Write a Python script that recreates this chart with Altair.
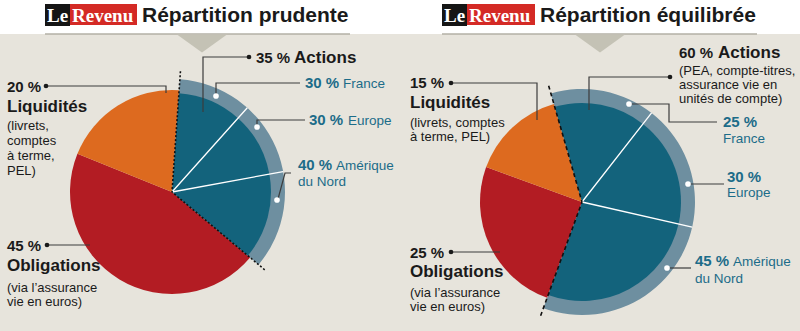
import math
import altair as alt
import pandas as pd

# ---------------- data ----------------
ASSET_CLASSES = ["Actions", "Obligations", "Liquidités"]
PRUDENTE = [35, 45, 20]
EQUILIBREE = [60, 25, 15]
REGIONS = ["France", "Europe", "Amérique du Nord"]
ACTIONS_PRUDENTE = [30, 30, 40]
ACTIONS_EQUILIBREE = [25, 30, 45]
TITLES = ["Répartition prudente", "Répartition équilibrée"]
BRAND = ["Le", "Revenu"]
NOTES_LIQ = ["(livrets,\ncomptes\nà terme,\nPEL)", "(livrets, comptes\nà terme, PEL)"]
NOTE_OBL = "(via l’assurance\nvie en euros)"
NOTE_ACT_EQ = "(PEA, compte-titres,\nassurance vie en\nunités de compte)"

# ---------------- styles ----------------
BEIGE = "#e7e4dc"
BLUE = "#13637c"
RING = "#6e8fa0"
ORANGE = "#dd6a1f"
RED = "#b31c23"
TEAL = "#1c6c89"
INK = "#1a1a1a"
LEAD = "#3c3c3c"
TRI = "#c4c2b5"
RULE = "#b3b1a6"
LOGO_RED = "#d42a25"
NARROW = "Liberation Sans, Arial, sans-serif"
SANS = "Liberation Sans, Arial, sans-serif"
SERIF = "Liberation Serif, Times New Roman, serif"
S_PCT, S_HEAD, S_NOTE, S_REG = 15, 17, 13, 13.5

ONE = pd.DataFrame({"a": [0]})


def pct(v):
    return f"{v} %"


def T(text, x, y, size, bold=False, color=INK, font=NARROW, lh=None):
    props = dict(align="left", baseline="alphabetic", fontSize=size,
                 fontWeight="bold" if bold else "normal", color=color, font=font)
    if lh:
        props["lineHeight"] = lh
        props["lineBreak"] = "\n"
    return alt.Chart(ONE).mark_text(**props).encode(
        x=alt.value(x), y=alt.value(y), text=alt.value(text))


def rect(x, x2, y, y2, color):
    return alt.Chart(ONE).mark_rect(color=color).encode(
        x=alt.value(x), x2=alt.value(x2), y=alt.value(y), y2=alt.value(y2))


def pie_tables(alloc, sub):
    rows, cum = [], 0
    for cat, v in zip(ASSET_CLASSES, alloc):
        rows.append(dict(cat=cat, start=cum, end=cum + v))
        cum += v
    main = pd.DataFrame(rows)
    srows, c = [], 0.0
    for reg, v in zip(REGIONS, sub):
        w = alloc[0] * v / 100
        srows.append(dict(region=reg, start=c, end=c + w))
        c += w
    subs = pd.DataFrame(srows)
    seps = pd.DataFrame({"b": list(subs["end"][:-1])})
    edges = pd.DataFrame({"b": [0, alloc[0]]})
    return main, subs, seps, edges


def pie_layers(alloc, sub, start_deg, cx, cy, dash):
    main, subs, seps, edges = pie_tables(alloc, sub)
    s = math.radians(start_deg)
    sc = alt.Scale(domain=[0, 100], range=[s, s + 2 * math.pi])
    pos = dict(x=alt.value(cx), y=alt.value(cy))
    act = main[main["cat"] == "Actions"]
    others = main[main["cat"] != "Actions"]
    ring = alt.Chart(act).mark_arc(radius=113, color=RING).encode(
        theta=alt.Theta("start:Q", scale=sc, stack=False), theta2="end:Q", **pos)
    slices = alt.Chart(others).mark_arc(radius=102).encode(
        theta=alt.Theta("start:Q", scale=sc, stack=False), theta2="end:Q",
        color=alt.Color("cat:N", scale=alt.Scale(domain=ASSET_CLASSES, range=[BLUE, RED, ORANGE]),
                        legend=None), **pos)
    blue = alt.Chart(subs).mark_arc(radius=99, color=BLUE).encode(
        theta=alt.Theta("start:Q", scale=sc, stack=False), theta2="end:Q", **pos)
    white = alt.Chart(seps).mark_arc(radius=113, fill="white", stroke="white", strokeWidth=1.3).encode(
        theta=alt.Theta("b:Q", scale=sc, stack=False), theta2="b:Q", **pos)
    dashed = alt.Chart(edges).mark_arc(radius=121, fillOpacity=0, stroke="#111111",
                                       strokeWidth=1.6, strokeDash=dash).encode(
        theta=alt.Theta("b:Q", scale=sc, stack=False), theta2="b:Q", **pos)
    return [ring, slices, blue, white, dashed]


# ---------------- annotation geometry (pixels) ----------------
LEADERS = {
    "l_liq": [(46, 86), (166, 86), (166, 93)],
    "l_obl": [(47, 245), (90, 245)],
    "l_act": [(249, 57), (203, 57), (203, 112)],
    "l_fr": [(300, 83), (216, 83), (216, 96)],
    "l_eu": [(305, 120), (257, 120), (257, 127)],
    "l_am": [(291, 173), (285, 173), (278, 199)],
    "r_liq": [(451, 83), (537, 83), (537, 120)],
    "r_obl": [(451, 252), (500, 252)],
    "r_act": [(670, 77), (589, 77), (589, 110)],
    "r_fr": [(629, 104), (669, 104), (669, 122), (717, 122)],
    "r_eu": [(688, 184), (724, 184)],
    "r_am": [(667, 268), (691, 268)],
}
BLACK_DOTS = [(46, 86), (47, 245), (249, 57), (451, 83), (451, 252), (670, 77)]
WHITE_DOTS = [(216, 96), (257, 127), (277, 200), (629, 104), (688, 184), (667, 268)]

lead_rows = []
for k, pts in LEADERS.items():
    for i, (x, y) in enumerate(pts):
        lead_rows.append(dict(id=k, o=i, x=x, y=y))
lead_df = pd.DataFrame(lead_rows)
bdots = pd.DataFrame(BLACK_DOTS, columns=["x", "y"])
wdots = pd.DataFrame(WHITE_DOTS, columns=["x", "y"])

px = dict(x=alt.X("x:Q", scale=None, axis=None), y=alt.Y("y:Q", scale=None, axis=None))

layers = []
# background & header
layers.append(rect(0, 800, 34, 331, BEIGE))
layers.append(alt.Chart(ONE).mark_rule(color=RULE, strokeWidth=1.5).encode(
    x=alt.value(45), x2=alt.value(350), y=alt.value(34)))
layers.append(alt.Chart(ONE).mark_rule(color=RULE, strokeWidth=1.5).encode(
    x=alt.value(442), x2=alt.value(757), y=alt.value(34)))
for cx in (202, 600):
    layers.append(alt.Chart(ONE).mark_point(shape="M -1 0 L 1 0 L 0 0.72 Z", size=2500, filled=True,
                                            color=TRI, opacity=1).encode(x=alt.value(cx), y=alt.value(34.5)))
# logos + titles
for (bx0, bx1, rx1, tx), title in zip([(45, 70, 137, 142), (442, 467, 535, 540)], TITLES):
    layers.append(rect(bx0, bx1, 4, 26, "#151515"))
    layers.append(rect(bx1, rx1, 4, 25, LOGO_RED))
    layers.append(T(BRAND[0], bx0 + 2, 22, 19, bold=True, color="white", font=SERIF))
    layers.append(T(BRAND[1], bx1 + 2, 22, 19, bold=True, color="white", font=SERIF))
    layers.append(T(title, tx, 22, 21, bold=True, color=INK, font=SANS))

# pies
layers += pie_layers(PRUDENTE, ACTIONS_PRUDENTE, 4, 172, 192, [2, 2])
layers += pie_layers(EQUILIBREE, ACTIONS_EQUILIBREE, -16, 582, 202, [4, 3])

# leaders and dots
layers.append(alt.Chart(lead_df).mark_line(color=LEAD, strokeWidth=1.2).encode(
    detail="id:N", order="o:Q", **px))
layers.append(alt.Chart(bdots).mark_point(filled=True, color=INK, size=22, opacity=1).encode(**px))
layers.append(alt.Chart(wdots).mark_point(filled=True, color="white", size=32, opacity=1).encode(**px))

# labels - left
layers += [
    T(pct(PRUDENTE[2]), 7, 92, S_PCT, bold=True),
    T(ASSET_CLASSES[2], 7, 112, S_HEAD, bold=True),
    T(NOTES_LIQ[0], 7, 130, S_NOTE, lh=15),
    T(pct(PRUDENTE[1]), 7, 251, S_PCT, bold=True),
    T(ASSET_CLASSES[1], 7, 271, S_HEAD, bold=True),
    T(NOTE_OBL, 7, 292, S_NOTE, lh=14),
    T(pct(PRUDENTE[0]), 256, 63, S_PCT, bold=True),
    T(ASSET_CLASSES[0], 294, 63, S_HEAD, bold=True),
    T(pct(ACTIONS_PRUDENTE[0]), 305, 88, S_PCT, bold=True, color=TEAL),
    T(REGIONS[0], 343, 88, S_REG, color=TEAL),
    T(pct(ACTIONS_PRUDENTE[1]), 309, 125, S_PCT, bold=True, color=TEAL),
    T(REGIONS[1], 348, 125, S_REG, color=TEAL),
    T(pct(ACTIONS_PRUDENTE[2]), 298, 170, S_PCT, bold=True, color=TEAL),
    T(REGIONS[2].split(" ", 1)[0], 336, 170, S_REG, color=TEAL),
    T(REGIONS[2].split(" ", 1)[1], 298, 186, S_REG, color=TEAL),
]
# labels - right
layers += [
    T(pct(EQUILIBREE[2]), 410, 88, S_PCT, bold=True),
    T(ASSET_CLASSES[2], 410, 108, S_HEAD, bold=True),
    T(NOTES_LIQ[1], 410, 127, S_NOTE, lh=14),
    T(pct(EQUILIBREE[1]), 410, 258, S_PCT, bold=True),
    T(ASSET_CLASSES[1], 410, 277, S_HEAD, bold=True),
    T(NOTE_OBL, 410, 297, S_NOTE, lh=14),
    T(pct(EQUILIBREE[0]), 679, 58, S_PCT, bold=True),
    T(ASSET_CLASSES[0], 718, 58, S_HEAD, bold=True),
    T(NOTE_ACT_EQ, 679, 75, S_NOTE, lh=14),
    T(pct(ACTIONS_EQUILIBREE[0]), 723, 127, S_PCT, bold=True, color=TEAL),
    T(REGIONS[0], 723, 143, S_REG, color=TEAL),
    T(pct(ACTIONS_EQUILIBREE[1]), 727, 182, S_PCT, bold=True, color=TEAL),
    T(REGIONS[1], 727, 197, S_REG, color=TEAL),
    T(pct(ACTIONS_EQUILIBREE[2]), 695, 266, S_PCT, bold=True, color=TEAL),
    T(REGIONS[2].split(" ", 1)[0], 733, 266, S_REG, color=TEAL),
    T(REGIONS[2].split(" ", 1)[1], 695, 283, S_REG, color=TEAL),
]

chart = alt.layer(*layers).properties(
    width=800, height=331, autosize="none", padding=0, background="white"
).resolve_scale(theta="independent").configure_view(stroke=None)

chart.save("out.html", embed_options={"renderer": "svg", "actions": False})
